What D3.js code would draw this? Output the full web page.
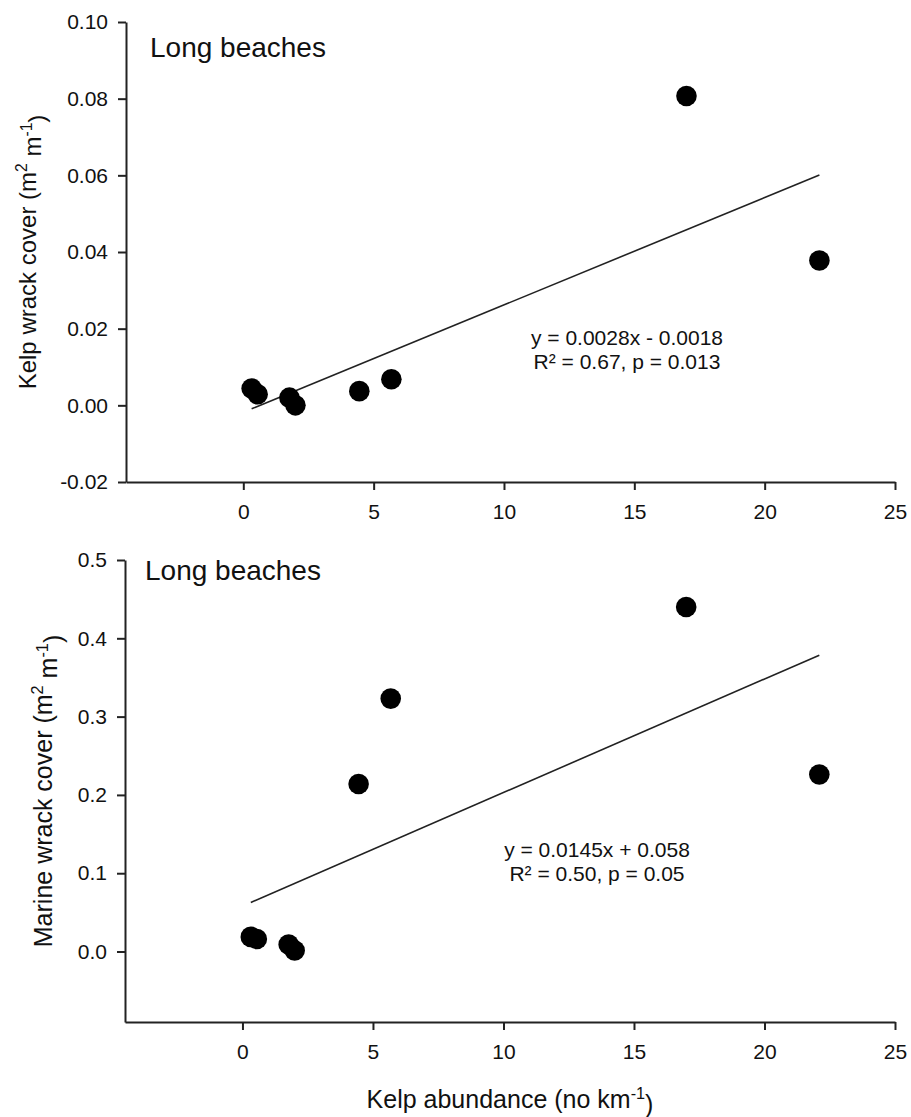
<!DOCTYPE html>
<html><head><meta charset="utf-8">
<script src="https://cdn.jsdelivr.net/npm/d3@7"></script>
<style>
body{margin:0;background:#fff}
svg{display:block}
text{font-family:"Liberation Sans",Arial,sans-serif;fill:#111}
</style>
</head><body>
<svg id="c" width="911" height="1117"></svg>
<script>
// ---- data ----
const kelpAbundance = [0.32, 0.55, 1.77, 2.0, 4.45, 5.68, 17.0, 22.1];
const kelpWrackCover = [0.0044, 0.0029, 0.0020, 0.0000, 0.0037, 0.0068, 0.0807, 0.0378];
const marineWrackCover = [0.0187, 0.0160, 0.0090, 0.0013, 0.214, 0.323, 0.440, 0.226];
const xTicks = [0, 5, 10, 15, 20, 25];
const kelpTicks = [-0.02, 0.00, 0.02, 0.04, 0.06, 0.08, 0.10];
const marineTicks = [0.0, 0.1, 0.2, 0.3, 0.4, 0.5];
const kelpFit = [0.0028, -0.0018];     // slope, intercept
const marineFit = [0.0145, 0.058];
const kelpEq = ["y = 0.0028x - 0.0018", "R² = 0.67, p = 0.013"];
const marineEq = ["y = 0.0145x + 0.058", "R² = 0.50, p = 0.05"];
const panelLabel = "Long beaches";

const svg = d3.select("#c");

function panel(o) {
  const x = d3.scaleLinear().domain([-4.5, 25]).range([o.left, o.right]);
  const y = d3.scaleLinear().domain(o.yDomain).range([o.bottom, o.top]);
  const g = svg.append("g");
  const f = d3.format(o.fmt);

  const ax = g.append("g").attr("transform", `translate(0,${o.bottom})`)
    .call(d3.axisBottom(x).tickValues(xTicks).tickSize(8).tickSizeOuter(0).tickPadding(14).tickFormat(d3.format("d")));
  const ay = g.append("g").attr("transform", `translate(${o.left},0)`)
    .call(d3.axisLeft(y).tickValues(o.yTicks).tickSize(8).tickSizeOuter(0).tickPadding(10)
      .tickFormat(d => f(d).replace("\u2212", "-")));
  [ax, ay].forEach(a => {
    a.select(".domain").attr("stroke", "#222").attr("stroke-width", 2);
    a.selectAll(".tick line").attr("stroke", "#222").attr("stroke-width", 2);
    a.selectAll(".tick text").attr("font-size", 21).attr("fill", "#111")
      .style("font-family", '"Liberation Sans",Arial,sans-serif');
  });

  // regression line
  const x0 = d3.min(kelpAbundance), x1 = d3.max(kelpAbundance);
  g.append("line")
    .attr("x1", x(x0)).attr("y1", y(o.fit[0] * x0 + o.fit[1]))
    .attr("x2", x(x1)).attr("y2", y(o.fit[0] * x1 + o.fit[1]))
    .attr("stroke", "#222").attr("stroke-width", 1.6);

  // points
  g.selectAll("circle").data(kelpAbundance).join("circle")
    .attr("cx", d => x(d)).attr("cy", (d, i) => y(o.values[i]))
    .attr("r", 10.3).attr("fill", "#000");

  // panel label
  g.append("text").attr("x", o.labelX).attr("y", o.labelY)
    .attr("font-size", 28).text(panelLabel);

  // equation
  const eq = g.append("text").attr("text-anchor", "middle").attr("font-size", 21);
  o.eq.forEach((t, i) => eq.append("tspan").attr("x", o.eqX).attr("y", o.eqY + i * 23.5).text(t));

  // y title
  const yt = g.append("text").attr("text-anchor", "middle").attr("font-size", o.ytSize)
    .attr("transform", `translate(${o.ytX},${(o.top + o.bottom) / 2}) rotate(-90)`);
  yt.append("tspan").text(o.ytitle + " (m");
  yt.append("tspan").attr("dy", "-0.55em").attr("font-size", "0.65em").text("2");
  yt.append("tspan").attr("dy", "0.55em").text(" m");
  yt.append("tspan").attr("dy", "-0.55em").attr("font-size", "0.65em").text("-1");
  yt.append("tspan").attr("dy", "0.55em").text(")");
  return x;
}

panel({left: 126, right: 895, top: 22, bottom: 482, yDomain: [-0.02, 0.10], yTicks: kelpTicks, fmt: ".2f",
  fit: kelpFit, values: kelpWrackCover, labelX: 150, labelY: 57, eq: kelpEq, eqX: 627, eqY: 345,
  ytitle: "Kelp wrack cover", ytX: 36, ytSize: 24});

panel({left: 125, right: 895, top: 560, bottom: 1022, yDomain: [-0.09, 0.5], yTicks: marineTicks, fmt: ".1f",
  fit: marineFit, values: marineWrackCover, labelX: 145, labelY: 580, eq: marineEq, eqX: 597, eqY: 857,
  ytitle: "Marine wrack cover", ytX: 52, ytSize: 25});

// x title
const xt = svg.append("text").attr("text-anchor", "middle").attr("font-size", 25)
  .attr("x", 510).attr("y", 1108);
xt.append("tspan").text("Kelp abundance (no km");
xt.append("tspan").attr("dy", "-0.55em").attr("font-size", "0.65em").text("-1");
xt.append("tspan").attr("dy", "0.55em").text(")");
</script>
</body></html>
